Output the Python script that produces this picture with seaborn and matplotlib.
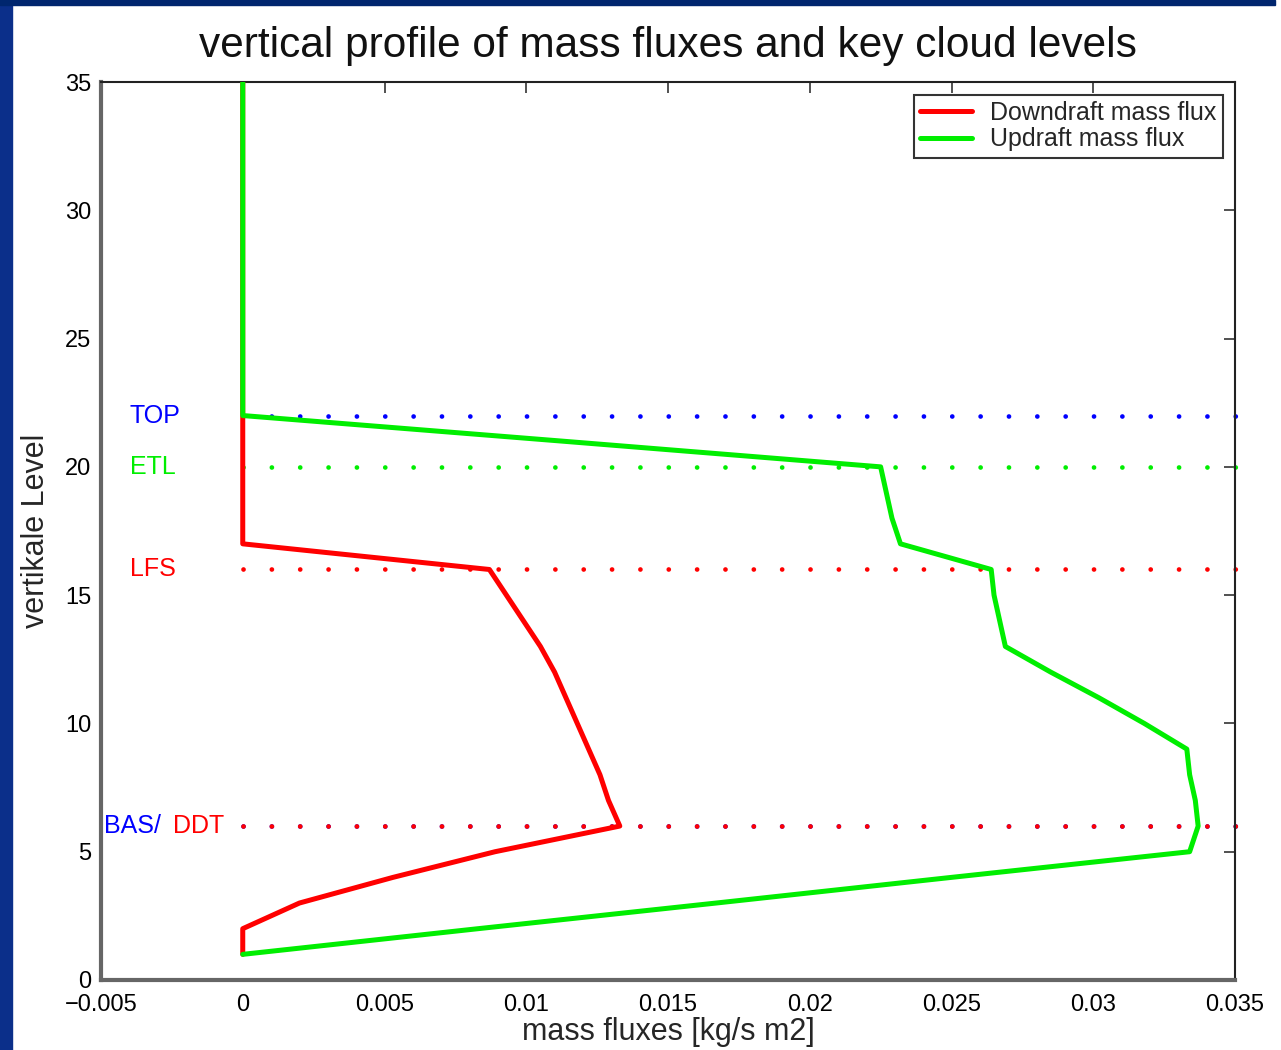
import matplotlib
matplotlib.use("Agg")
import matplotlib.pyplot as plt
import seaborn as sns
import pandas as pd
from matplotlib.patches import Rectangle

# model levels and mass fluxes
levels = list(range(1, 36))
downdraft = [0, 0, 0.0020, 0.0053, 0.0089, 0.0133, 0.0129, 0.0126, 0.0122, 0.0118,
             0.0114, 0.0110, 0.0105, 0.0099, 0.0093, 0.0087] + [0] * 19
updraft = [0, 0.0083, 0.0167, 0.0250, 0.0334, 0.0337, 0.0336, 0.0334, 0.0333, 0.0318,
           0.0302, 0.0285, 0.0269, 0.0267, 0.0265, 0.0264, 0.0232, 0.0229, 0.0227, 0.0225,
           0.0113] + [0] * 14

# key cloud levels
cloud_names = ["TOP", "ETL", "LFS", "BAS/", "DDT"]
cloud_levels = [22, 20, 16, 6, 6]
cloud_colors = ["#0000ff", "#00ee00", "#ff0000", "#0000ff", "#ff0000"]
label_x = [-0.00398, -0.00398, -0.00398, -0.00488, -0.00246]
dot_range = [0, 0.03502]

xticks = [-0.005, 0, 0.005, 0.01, 0.015, 0.02, 0.025, 0.03, 0.035]
xtick_labels = ["\u22120.005", "0", "0.005", "0.01", "0.015", "0.02", "0.025", "0.03", "0.035"]
yticks = [0, 5, 10, 15, 20, 25, 30, 35]

sns.set_theme(style="white")
plt.rcParams["font.family"] = ["Liberation Sans", "DejaVu Sans"]

fig = plt.figure(figsize=(12.81, 10.5), dpi=100)
fig.patch.set_facecolor("white")
# slide background strips
fig.add_artist(Rectangle((0, 0), 12 / 1281, 1, transform=fig.transFigure,
                         color="#0b2f8a", zorder=0))
fig.add_artist(Rectangle((0, 1 - 5 / 1050), 1275 / 1281, 5 / 1050,
                         transform=fig.transFigure, color="#00266e", zorder=0))

ax = fig.add_axes([101 / 1281, 70 / 1050, (1235 - 101) / 1281, (980 - 82) / 1050])

# dotted cloud level lines
for name, lev, col in zip(cloud_names, cloud_levels, cloud_colors):
    period = 28.35 / (3.4 * 100 / 72)
    ax.plot(dot_range, [lev, lev], color=col, lw=3.4,
            linestyle=(0, (0.01, period - 0.01)), dash_capstyle="round",
            zorder=2, clip_on=False)

df_down = pd.DataFrame({"flux": downdraft, "level": levels})
df_up = pd.DataFrame({"flux": updraft, "level": levels})
sns.lineplot(data=df_down, x="flux", y="level", sort=False, estimator=None,
             color="#ff0000", lw=3.6, label="Downdraft mass flux", ax=ax, zorder=3)
sns.lineplot(data=df_up, x="flux", y="level", sort=False, estimator=None,
             color="#00ee00", lw=3.6, label="Updraft mass flux", ax=ax, zorder=3)

for name, lev, col, lx in zip(cloud_names, cloud_levels, cloud_colors, label_x):
    ax.text(lx, lev, name, color=col, fontsize=18, va="center", ha="left")

ax.set_xlim(-0.005, 0.035)
ax.set_ylim(0, 35)
ax.set_xticks(xticks)
ax.set_xticklabels(xtick_labels)
ax.set_yticks(yticks)
ax.tick_params(direction="in", length=8, width=1.2, colors="#333333",
               labelsize=17, labelcolor="black", top=True, right=True, pad=7)
ax.tick_params(axis="x", pad=10)

for side in ["left", "bottom"]:
    ax.spines[side].set_linewidth(3)
    ax.spines[side].set_color("#666666")
for side in ["top", "right"]:
    ax.spines[side].set_linewidth(1.5)
    ax.spines[side].set_color("#222222")

ax.set_title("vertical profile of mass fluxes and key cloud levels",
             fontsize=30.5, color="#111111", pad=18)
ax.set_xlabel("mass fluxes [kg/s m2]", fontsize=22, labelpad=1)
ax.set_ylabel("vertikale Level", fontsize=22, labelpad=10)

leg = ax.legend(loc="upper right", fontsize=18, frameon=True, fancybox=False,
                edgecolor="black", borderaxespad=0.5, handlelength=2.1,
                handletextpad=0.7, borderpad=0.25, labelspacing=0.1)
leg.get_frame().set_linewidth(1.5)

fig.savefig("out.png", dpi=100)
